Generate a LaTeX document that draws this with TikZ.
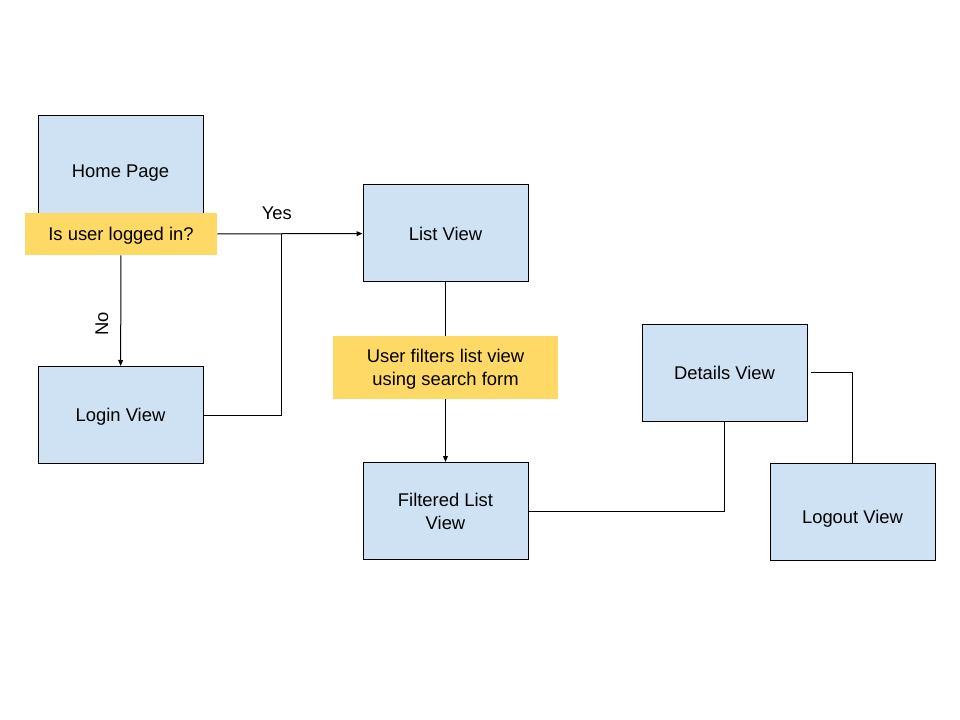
\documentclass[tikz,border=0pt]{standalone}
\usepackage{fontspec}
\setmainfont{Liberation Sans}
\usetikzlibrary{arrows.meta}

\definecolor{viewblue}{HTML}{CFE2F3}
\definecolor{noteyellow}{HTML}{FFD966}

\begin{document}
\begin{tikzpicture}[
    x=0.75pt, y=-0.75pt, % pixel grid of the page, y going down
    font=\fontsize{13.8}{17.25}\selectfont,
    % Styles for the nodes and lines
    view/.style={rectangle, draw, line width=0.75pt, fill=viewblue, align=center,
        minimum width=123.75pt, minimum height=72.75pt, inner sep=0pt,
        text height=9.9pt, text depth=0pt}, % centre on the capitals
    note/.style={rectangle, fill=noteyellow, align=center, inner sep=0pt,
        text height=9.9pt, text depth=0pt},
    twolines/.style={text height=27.15pt}, % one more line of 17.25pt
    line/.style={
        draw,
        line width=0.75pt
    },
    arrow/.style={
        line,
        -{Triangle[length=4.5pt,width=3.6pt]}
    }
]
\useasboundingbox (0,0) rectangle (960,720);

% Views
\node [view, minimum height=82.5pt] (home) at (120.5,171) {Home Page};
\node [note, minimum width=144pt, minimum height=31.5pt] (loggedin) at (121,234) {Is user logged in?};
\node [view] (list) at (445.5,233.5) {List View};
\node [view] (login) at (120.5,415) {Login View};
\node [note, twolines, minimum width=168.75pt, minimum height=47.25pt] (search) at (445.5,367.5) {User filters list view\\using search form};
\node [view, twolines] (filtered) at (445.5,511) {Filtered List\\View};
\node [view] (details) at (724.5,372.5) {Details View};
\node [view, text height=16.7pt] (logout) at (852.5,512) {Logout View};

% Connectors
\coordinate (join) at (281,234);
\path [arrow] (loggedin) -- node [pos=0.41, above, inner sep=10pt] {Yes} (list);
\path [line] (login.east) -| (join);
\path [arrow] (loggedin) -- node [pos=0.62, rotate=90, anchor=south, inner sep=9pt] {No} (login);
\path [line] (list) -- (search);
\path [arrow] (search) -- (filtered);
\path [line] (filtered.east) -| (details.south);
\path [line] ([xshift=2.5pt]details.east) -| (logout.north);

\end{tikzpicture}
\end{document}
